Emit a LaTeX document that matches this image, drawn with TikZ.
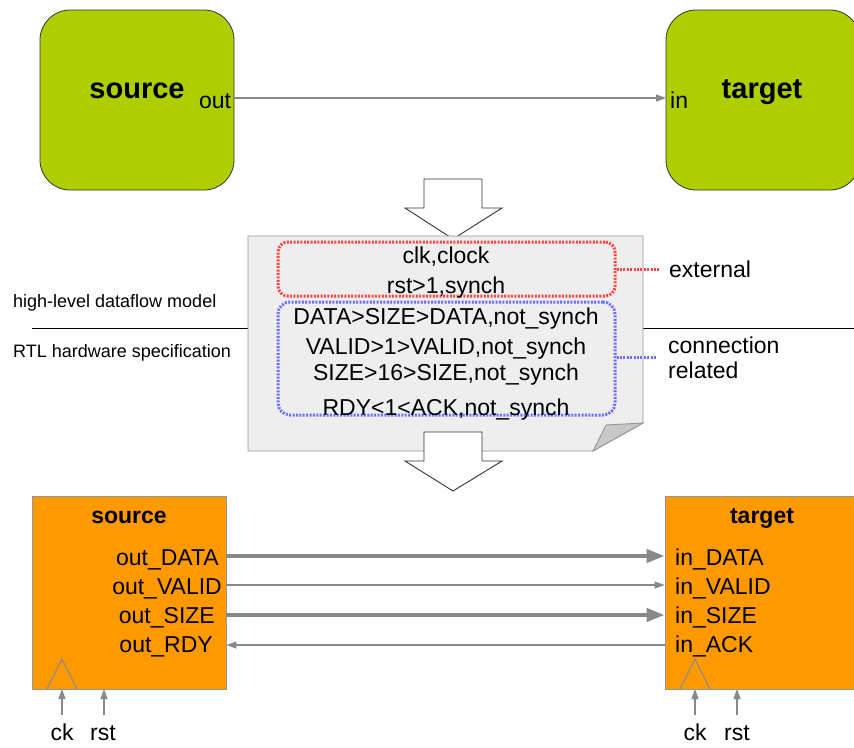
\documentclass[tikz,border=0pt]{standalone}
\usepackage{fontspec}
\setmainfont{Liberation Sans}
\usetikzlibrary{arrows.meta}
\definecolor{hlgreen}{RGB}{175,206,0}
\definecolor{rtlorange}{RGB}{255,153,0}
\definecolor{conngray}{RGB}{136,136,136}
\definecolor{sheetfill}{RGB}{238,238,238}
\definecolor{sheetline}{RGB}{150,150,150}
\definecolor{foldfill}{RGB}{200,200,200}
\definecolor{extred}{RGB}{255,68,68}
\definecolor{conblue}{RGB}{110,110,255}
\tikzset{
  hlbox/.style={draw=black!80, line width=0.8pt, fill=hlgreen, rounded corners=30pt,
    minimum width=194pt, minimum height=180pt, inner sep=0pt},
  rtlbox/.style={draw=sheetline, line width=0.8pt, fill=rtlorange,
    minimum width=194pt, minimum height=193pt, inner sep=0pt},
  txt/.style={inner sep=0pt, font=\fontsize{23}{27}\selectfont},
  smalltxt/.style={inner sep=0pt, font=\fontsize{18}{22}\selectfont},
  bigbold/.style={inner sep=0pt, font=\fontsize{29}{33}\selectfont\bfseries},
  midbold/.style={inner sep=0pt, font=\fontsize{23}{27}\selectfont\bfseries},
  thin/.style={draw=conngray, line width=1.2pt, -{Triangle[length=10pt,width=7pt]}},
  thick/.style={draw=conngray, line width=4pt, -{Triangle[length=18pt,width=13pt]}},
  hollow/.style={draw=black!80, line width=0.9pt, fill=white},
  clocktri/.style={draw=conngray, line width=1pt},
}
\begin{document}
\begin{tikzpicture}[x=1pt,y=-1pt]
\useasboundingbox (0,0) rectangle (854,747);
\clip (0,0) rectangle (854,747);

% ---------- top: high-level dataflow model ----------
\node[hlbox] (hsrc) at (137,100) {};
\node[hlbox] (htgt) at (763,100) {};
\node[bigbold, anchor=base] (hsrclab) at (137,98) {source};
\node[bigbold, anchor=base] (htgtlab) at (762,98) {target};
\node[txt, anchor=base] (hout) at (215,108) {out};
\node[txt, anchor=base west] (hin) at (670,108) {in};
\coordinate (houtp) at (234,98);
\coordinate (hinp) at (666,98);
\draw[thin] (houtp) -- (hinp);

% ---------- first hollow arrow ----------
\path[hollow] (424,179) -- (482,179) -- (482,208) -- (502,208) -- (453,239)
  -- (405,208) -- (424,208) -- cycle;

% ---------- separator lines and labels ----------
\coordinate (sepL) at (32,328);
\coordinate (sepLe) at (248,328);
\coordinate (sepR) at (643,328);
\coordinate (sepRe) at (854,328);
\draw[black, line width=0.9pt] (sepL) -- (sepLe);
\draw[black, line width=0.9pt] (sepR) -- (sepRe);
\node[smalltxt, anchor=base west] (hlmodel) at (13,307) {high-level dataflow model};
\node[smalltxt, anchor=base west] (rtlspec) at (13,357) {RTL hardware specification};

% ---------- note sheet ----------
\path[draw=sheetline, line width=0.9pt, fill=sheetfill]
  (248,236) -- (643,236) -- (643,423) -- (593,451) -- (248,451) -- cycle;
\path[draw=sheetline, line width=0.9pt, fill=foldfill]
  (593,451) -- (606,425) -- (643,423) -- cycle;

\node[draw=extred, line width=3pt, dash pattern=on 2pt off 1.4pt, rounded corners=10pt,
  minimum width=337pt, minimum height=54pt, inner sep=0pt] (extbox) at (446.5,269) {};
\node[draw=conblue, line width=3pt, dash pattern=on 2pt off 1.4pt, rounded corners=12pt,
  minimum width=337pt, minimum height=113pt, inner sep=0pt] (conbox) at (446.5,358.5) {};

\node[txt, anchor=base] (l1) at (446,263) {clk,clock};
\node[txt, anchor=base] (l2) at (446,293) {rst>1,synch};
\node[txt, anchor=base] (l3) at (446,324) {DATA>SIZE>DATA,not\_synch};
\node[txt, anchor=base] (l4) at (446,354) {VALID>1>VALID,not\_synch};
\node[txt, anchor=base] (l5) at (446,380) {SIZE>16>SIZE,not\_synch};
\node[txt, anchor=base] (l6) at (446,415) {RDY<1<ACK,not\_synch};

\coordinate (extend) at (660,269);
\coordinate (conend) at (657,357);
\draw[extred, line width=3pt, dash pattern=on 2pt off 1.4pt] (extbox.east) -- (extend);
\draw[conblue, line width=3pt, dash pattern=on 2pt off 1.4pt] (conbox.east |- conend) -- (conend);
\node[txt, anchor=base west] (extlab) at (669,277) {external};
\node[txt, anchor=base west] (conlab1) at (668,353) {connection};
\node[txt, anchor=base west] (conlab2) at (668,378) {related};

% ---------- second hollow arrow ----------
\path[hollow] (424,432) -- (482,432) -- (482,461) -- (502,461) -- (453,491)
  -- (405,461) -- (424,461) -- cycle;

% ---------- bottom: RTL ----------
\node[rtlbox] (rsrc) at (129,592.5) {};
\node[rtlbox] (rtgt) at (762,592.5) {};
\node[midbold, anchor=base] (rsrclab) at (129,523) {source};
\node[midbold, anchor=base] (rtgtlab) at (762,523) {target};

\node[txt, anchor=base east] (oD) at (219,565) {out\_DATA};
\node[txt, anchor=base east] (oV) at (222,594) {out\_VALID};
\node[txt, anchor=base east] (oS) at (215,623) {out\_SIZE};
\node[txt, anchor=base east] (oR) at (213,652) {out\_RDY};
\node[txt, anchor=base west] (iD) at (675,565) {in\_DATA};
\node[txt, anchor=base west] (iV) at (675,594) {in\_VALID};
\node[txt, anchor=base west] (iS) at (675,623) {in\_SIZE};
\node[txt, anchor=base west] (iA) at (675,652) {in\_ACK};

\coordinate (pD) at (0,556);
\coordinate (pV) at (0,585);
\coordinate (pS) at (0,615);
\coordinate (pA) at (0,645);
\draw[thick] (rsrc.east |- pD) -- (rtgt.west |- pD);
\draw[thin]  (rsrc.east |- pV) -- (rtgt.west |- pV);
\draw[thick] (rsrc.east |- pS) -- (rtgt.west |- pS);
\draw[thin]  (rtgt.west |- pA) -- (rsrc.east |- pA);

% clock triangles
\draw[clocktri] (47,689) -- (62,659) -- (77,689);
\draw[clocktri] (680,689) -- (695,659) -- (710,689);

% ck / rst inputs
\node[txt, anchor=base] (sck) at (62,740) {ck};
\node[txt, anchor=base] (srst) at (103,740) {rst};
\node[txt, anchor=base] (tck) at (695,740) {ck};
\node[txt, anchor=base] (trst) at (737,740) {rst};
\coordinate (sckin) at (62,689);
\coordinate (srstin) at (104,689);
\coordinate (tckin) at (695,689);
\coordinate (trstin) at (737,689);
\draw[thin] (62,715) -- (sckin);
\draw[thin] (104,715) -- (srstin);
\draw[thin] (695,715) -- (tckin);
\draw[thin] (737,715) -- (trstin);
\end{tikzpicture}
\end{document}
